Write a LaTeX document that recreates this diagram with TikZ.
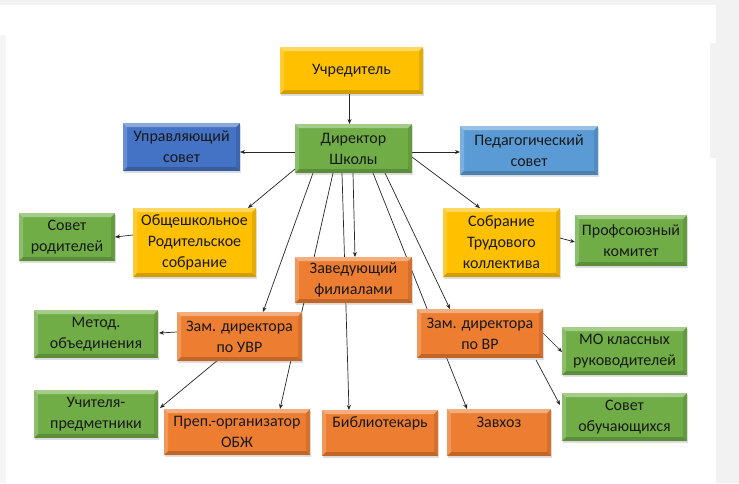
\documentclass[tikz,border=0pt]{standalone}
\usepackage{fontspec}
\setmainfont{Carlito}
\usetikzlibrary{arrows.meta,calc,shadows}
\pgfdeclarelayer{back}
\pgfdeclarelayer{lines}
\pgfsetlayers{back,lines,main}
\definecolor{cYel}{HTML}{FFC000}
\definecolor{cGrn}{HTML}{70AD47}
\definecolor{cBlu}{HTML}{4472C4}
\definecolor{cLbl}{HTML}{5B9BD5}
\definecolor{cOrg}{HTML}{ED7D31}
\tikzset{
  orgbox/.style={rectangle, inner sep=0pt, outer sep=0pt, align=center,
    font=\fontsize{16}{21}\selectfont, text=black!90,
    drop shadow={opacity=0.25, shadow xshift=1pt, shadow yshift=-1.5pt},
    path picture={
      \fill[white,opacity=.38] (path picture bounding box.north west) -- (path picture bounding box.north east)
        -- ([shift={(-4pt,-4pt)}]path picture bounding box.north east) -- ([shift={(4pt,-4pt)}]path picture bounding box.north west) -- cycle;
      \fill[white,opacity=.2] (path picture bounding box.north west) -- ([shift={(4pt,-4pt)}]path picture bounding box.north west)
        -- ([shift={(4pt,4pt)}]path picture bounding box.south west) -- (path picture bounding box.south west) -- cycle;
      \fill[black,opacity=.18] (path picture bounding box.south west) -- (path picture bounding box.south east)
        -- ([shift={(-4pt,4pt)}]path picture bounding box.south east) -- ([shift={(4pt,4pt)}]path picture bounding box.south west) -- cycle;
      \fill[black,opacity=.1] (path picture bounding box.north east) -- (path picture bounding box.south east)
        -- ([shift={(-4pt,4pt)}]path picture bounding box.south east) -- ([shift={(-4pt,-4pt)}]path picture bounding box.north east) -- cycle;
    }},
  yel/.style={orgbox, fill=cYel},
  grn/.style={orgbox, fill=cGrn},
  blu/.style={orgbox, fill=cBlu},
  lbl/.style={orgbox, fill=cLbl},
  org/.style={orgbox, fill=cOrg},
  conn/.style={line width=0.7pt, draw=black!85, -{Stealth[length=5pt,width=4pt]}},
}
\newcommand\bx[7]{\node[#6, minimum width=#4pt, minimum height=#5pt] (#1) at (#2,#3) {#7};}
\begin{document}
\begin{tikzpicture}[x=1pt,y=-1pt]
\begin{pgfonlayer}{back}
  \path[fill=white] (0,0) rectangle (739,483);
  \path[fill=black!5] (716,0) rectangle (739,483);
  \path[fill=black!5] (710,43) rectangle (739,158);
  \path[fill=black!5] (0,0) rectangle (739,5);
  \path[fill=black!4] (0,35) rectangle (6,483);
\end{pgfonlayer}
\useasboundingbox (0,0) rectangle (739,483);

\bx{uchr}{351.5}{70.5}{143}{47}{yel}{Учредитель}
\bx{dir}{353.5}{148.5}{117}{49}{grn}{Директор\\Школы}
\bx{uprav}{181.5}{147}{117}{48}{blu}{Управляющий\\совет}
\bx{ped}{529}{150.5}{138}{49}{lbl}{Педагогический\\совет}
\bx{sovrod}{67}{237}{96}{48}{grn}{Совет\\родителей}
\bx{obsh}{194.5}{242.5}{123}{69}{yel}{Общешкольное\\Родительское\\собрание}
\bx{sobr}{501.5}{242.5}{117}{69}{yel}{Собрание\\Трудового\\коллектива}
\bx{prof}{631}{240.5}{112}{51}{grn}{Профсоюзный\\комитет}
\bx{zav}{353.5}{280}{117}{46}{org}{Заведующий\\филиалами}
\bx{metod}{96}{334}{124}{48}{grn}{Метод.\\объединения}
\bx{zamuvr}{239.5}{336.5}{125}{49}{org}{Зам. директора\\по УВР}
\bx{zamvr}{480}{333.5}{126}{49}{org}{Зам. директора\\по ВР}
\bx{mo}{624.5}{351}{125}{48}{grn}{МО классных\\руководителей}
\bx{uch}{96}{414}{124}{48}{grn}{Учителя-\\предметники}
\bx{prep}{237}{432}{146}{46}{org}{Преп.-организатор\\ОБЖ}
\bx{bib}{380}{433}{116}{46}{org}{Библиотекарь\\\mbox{}}
\bx{zavhoz}{499}{432.5}{104}{47}{org}{Завхоз\\\mbox{}}
\bx{sovob}{624.5}{417}{125}{48}{grn}{Совет\\обучающихся}

\begin{pgfonlayer}{lines}
  \draw[conn] ($(uchr.south)+(-2,0)$) -- ($(dir.north)+(-4,0)$);
  \draw[conn] ($(dir.west)+(0,3.5)$) -- ($(uprav.east)+(0,5)$);
  \draw[conn] ($(dir.east)+(0,3.5)$) -- ($(ped.west)+(0,1.5)$);
  \draw[conn] ($(dir.south west)+(0,-4)$) -- ($(obsh.north east)+(-8,0)$);
  \draw[conn] ($(dir.south west)+(18,0)$) -- ($(zamuvr.north)+(23.5,0)$);
  \draw[conn] ($(dir.south west)+(38,0)$) -- ($(prep.north)+(43,0)$);
  \draw[conn] ($(dir.south west)+(47,0)$) -- ($(bib.north)+(-31,0)$);
  \draw[conn] ($(dir.south west)+(58,0)$) -- ($(zav.north)+(1.5,0)$);
  \draw[conn] ($(dir.south west)+(78,0)$) -- ($(zavhoz.north)+(-32,0)$);
  \draw[conn] ($(dir.south west)+(90,0)$) -- ($(zamvr.north)+(-30,0)$);
  \draw[conn] ($(dir.east)+(0,8.5)$) -- ($(sobr.north west)+(37,0)$);
  \draw[conn] ($(obsh.west)+(0,-7.5)$) -- (sovrod.east);
  \draw[conn] ($(sobr.east)+(0,-4.5)$) -- ($(prof.west)+(0,1.5)$);
  \draw[conn] ($(zamuvr.west)+(0,-4.5)$) -- ($(metod.east)+(1,-1)$);
  \draw[conn] ($(zamuvr.south)+(-21.5,-1)$) -- ($(uch.east)+(2,-6)$);
  \draw[conn] ($(zamvr.east)+(0,-0.5)$) -- ($(mo.west)+(0,1)$);
  \draw[conn] ($(zamvr.south east)+(-7,2)$) -- ($(sovob.west)+(-2,-12)$);
\end{pgfonlayer}
\end{tikzpicture}
\end{document}
